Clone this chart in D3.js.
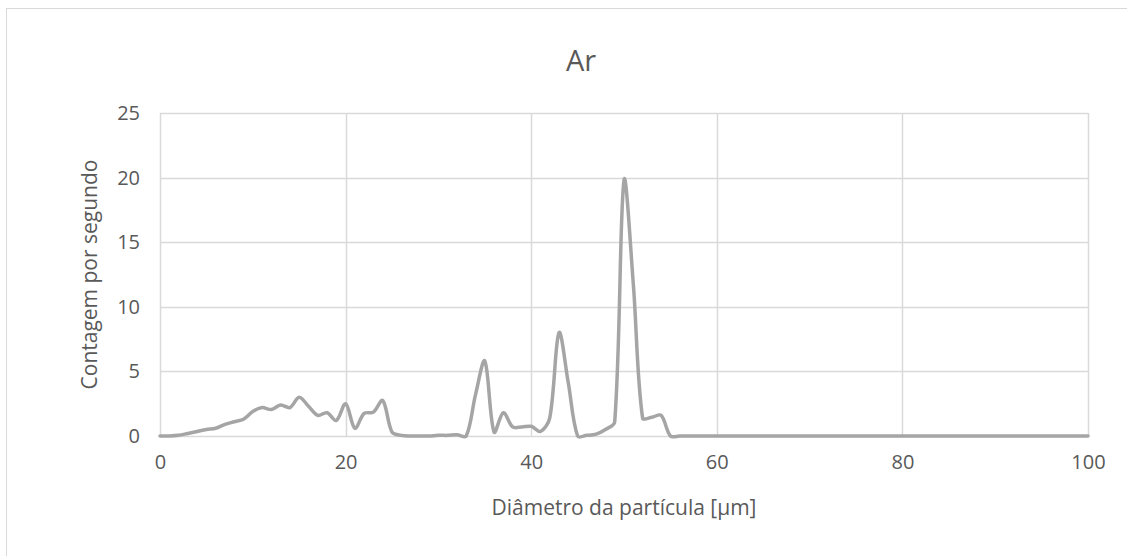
<!DOCTYPE html>
<html>
<head>
<meta charset="utf-8">
<script src="https://cdn.jsdelivr.net/npm/d3@7"></script>
<style>
body { margin: 0; background: #fff; }
text { font-family: "Open Sans", "Noto Sans", sans-serif; fill: #595959; }
</style>
</head>
<body>
<script>
var width = 1127;
var height = 556;

var titulo = "Ar";
var tituloX = "Diâmetro da partícula [µm]";
var tituloY = "Contagem por segundo";

// diametro (µm) e contagem por segundo
var diametro = [0,1,2,3,4,5,6,7,8,9,10,11,12,13,14,15,16,17,18,19,20,
  21,22,23,24,25,26,27,28,29,30,31,32,33,34,35,36,37,38,39,40,
  41,42,43,44,45,46,47,48,49,50,51,52,53,54,55,56,57,58,59,60,
  61,62,63,64,65,66,67,68,69,70,71,72,73,74,75,76,77,78,79,80,
  81,82,83,84,85,86,87,88,89,90,91,92,93,94,95,96,97,98,99,100];
var contagem = [0,0,0.05,0.2,0.35,0.5,0.6,0.9,1.1,1.3,1.9,2.2,2.05,2.4,2.2,3.0,2.3,1.6,1.8,1.2,2.5,
  0.6,1.75,1.85,2.75,0.3,0.05,0,0,0,0.05,0.05,0.1,0,3.2,5.8,0.3,1.8,0.7,0.7,0.75,
  0.35,1.4,8.0,4.1,0,0.05,0.15,0.5,1.1,19.8,11.8,1.4,1.45,1.6,0,0,0,0,0,0,
  0,0,0,0,0,0,0,0,0,0,0,0,0,0,0,0,0,0,0,0,
  0,0,0,0,0,0,0,0,0,0,0,0,0,0,0,0,0,0,0,0];

var xTicks = [0,20,40,60,80,100];
var yTicks = [0,5,10,15,20,25];

var padding = {top:113, right:39, bottom:120, left:160};

var svg = d3.select("body")
.append("svg")
.attr("width",width)
.attr("height",height);

// moldura do gráfico
svg.append("rect")
.attr("x",6.5).attr("y",8.5)
.attr("width",1140).attr("height",570)
.attr("fill","none")
.attr("stroke","#d9d9d9")
.attr("stroke-width",1);

var xScale = d3.scaleLinear()
.domain([0,100])
.range([padding.left,width - padding.right]);

var yScale = d3.scaleLinear()
.domain([0,25])
.range([height - padding.bottom,padding.top]);

// grades
svg.append("g")
.selectAll("line")
.data(yTicks)
.enter()
.append("line")
.attr("x1",xScale(0)).attr("x2",xScale(100))
.attr("y1",function(d){ return Math.round(yScale(d)) + 0.5; })
.attr("y2",function(d){ return Math.round(yScale(d)) + 0.5; })
.attr("stroke","#d9d9d9")
.attr("stroke-width",1.5);

svg.append("g")
.selectAll("line")
.data(xTicks)
.enter()
.append("line")
.attr("x1",function(d){ return Math.round(xScale(d)) + 0.5; })
.attr("x2",function(d){ return Math.round(xScale(d)) + 0.5; })
.attr("y1",yScale(0)).attr("y2",yScale(25))
.attr("stroke","#d9d9d9")
.attr("stroke-width",1.5);

// eixos (apenas rótulos)
var xAxis = d3.axisBottom(xScale)
.tickValues(xTicks)
.tickSize(0)
.tickPadding(19);

var yAxis = d3.axisLeft(yScale)
.tickValues(yTicks)
.tickSize(0)
.tickPadding(20);

var gx = svg.append("g")
.attr("transform","translate(0," + yScale(0) + ")")
.call(xAxis);
gx.select(".domain").remove();
gx.selectAll("text").style("font-size","20px").attr("fill","#595959")
.style("font-family","'Open Sans', sans-serif");

var gy = svg.append("g")
.attr("transform","translate(" + xScale(0) + ",0)")
.call(yAxis);
gy.select(".domain").remove();
gy.selectAll("text").style("font-size","20px").attr("fill","#595959")
.style("font-family","'Open Sans', sans-serif");

// linha suavizada tipo Excel: braços de controle proporcionais ao tamanho dos segmentos
var pontos = contagem.map(function(d,i){ return [xScale(diametro[i]), yScale(d)]; });

function dist(a,b){ return Math.hypot(a[0]-b[0], a[1]-b[1]); }

function suave(p){
  var path = d3.path();
  path.moveTo(p[0][0], p[0][1]);
  for(var i = 0; i < p.length - 1; i++)
  {
    var p0 = p[Math.max(i-1,0)], p1 = p[i], p2 = p[i+1], p3 = p[Math.min(i+2,p.length-1)];
    var l01 = dist(p0,p1), l12 = dist(p1,p2), l23 = dist(p2,p3);
    var a = (l01 + l12) > 0 ? l12 / (l01 + l12) / 3 : 0;
    var b = (l12 + l23) > 0 ? l12 / (l12 + l23) / 3 : 0;
    path.bezierCurveTo(
      p1[0] + (p2[0] - p0[0]) * a, p1[1] + (p2[1] - p0[1]) * a,
      p2[0] - (p3[0] - p1[0]) * b, p2[1] - (p3[1] - p1[1]) * b,
      p2[0], p2[1]);
  }
  return path.toString();
}

svg.append("path")
.attr("d",suave(pontos))
.attr("fill","none")
.attr("stroke","#a5a5a5")
.attr("stroke-width",3.5)
.attr("stroke-linejoin","round")
.attr("stroke-linecap","round");

// títulos
svg.append("text")
.attr("x",581).attr("y",71)
.attr("text-anchor","middle")
.style("font-size","29px")
.text(titulo);

svg.append("text")
.attr("x",(xScale(0) + xScale(100)) / 2).attr("y",515)
.attr("text-anchor","middle")
.style("font-size","21px")
.text(tituloX);

svg.append("text")
.attr("transform","translate(97," + (yScale(0) + yScale(25)) / 2 + ") rotate(-90)")
.attr("text-anchor","middle")
.style("font-size","21px")
.text(tituloY);
</script>
</body>
</html>
